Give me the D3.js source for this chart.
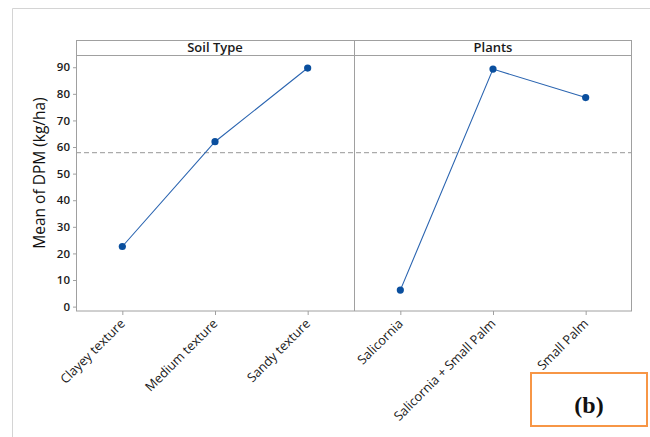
<!DOCTYPE html>
<html><head><meta charset="utf-8">
<script src="https://cdn.jsdelivr.net/npm/d3@7"></script>
<style>body{margin:0;background:#fff;} svg{display:block;}</style>
</head><body>
<svg id="c" width="650" height="437"></svg>
<script>
const panelTitles = ["Soil Type", "Plants"];
const soilCategories = ["Clayey texture", "Medium texture", "Sandy texture"];
const soilMeans = [22.6, 62.0, 89.7];
const plantCategories = ["Salicornia", "Salicornia + Small Palm", "Small Palm"];
const plantMeans = [6.2, 89.3, 78.6];
const overallMean = 57.9;
const yTicks = [0,10,20,30,40,50,60,70,80,90];
const yLabel = "Mean of DPM (kg/ha)";
const panelTag = "(b)";

const svg = d3.select("#c");
const L = 76, R = 632, T = 40, H = 55, B = 311;
const mid = 354;
const font = "'Open Sans', 'Noto Sans', sans-serif";
const frameCol = "#a0a0a0";

// outer light frame
svg.append("path").attr("d", `M12.5,437 V8.5 H650`).attr("fill","none").attr("stroke","#d4d4d4").attr("stroke-width",1);

const y = d3.scaleLinear().domain([-1.65, 94.6]).range([B, H]);

const panels = [
  {title: panelTitles[0], cats: soilCategories, vals: soilMeans, x0: L, x1: mid},
  {title: panelTitles[1], cats: plantCategories, vals: plantMeans, x0: mid, x1: R}
];

// reference dashed line
svg.append("line").attr("x1", L).attr("x2", R).attr("y1", y(overallMean)).attr("y2", y(overallMean))
  .attr("stroke", "#ababab").attr("stroke-width", 1.2).attr("stroke-dasharray", "5,3");

panels.forEach(p => {
  const x = d3.scalePoint().domain(p.cats).range([p.x0, p.x1]).padding(0.5);
  // header
  svg.append("text").attr("x", (p.x0+p.x1)/2).attr("y", T + 12).attr("text-anchor","middle")
    .attr("font-family", font).attr("font-size", 13).attr("font-weight", 600).attr("fill","#1a1a1a").text(p.title);
  // x axis
  const ax = svg.append("g").attr("transform", `translate(0,${B})`)
    .call(d3.axisBottom(x).tickSize(4).tickSizeOuter(0).tickFormat(""));
  ax.select(".domain").remove();
  ax.selectAll("line").attr("stroke", frameCol);
  p.cats.forEach(c => {
    svg.append("text").attr("transform", `translate(${x(c)+1},${B+11}) rotate(-45)`)
      .attr("text-anchor","end").attr("dominant-baseline","middle")
      .attr("font-family", font).attr("font-size", 12.8).attr("font-weight", 500).attr("fill","#1a1a1a").text(c);
  });
  // line and points
  const data = p.cats.map((c,i) => [x(c), y(p.vals[i])]);
  svg.append("path").attr("d", d3.line()(data)).attr("fill","none").attr("stroke","#2a64b0").attr("stroke-width",1.1);
  svg.selectAll(null).data(data).enter().append("circle")
    .attr("cx", d => d[0]).attr("cy", d => d[1]).attr("r", 3.6).attr("fill","#0a4f9e");
});

// frame
svg.append("rect").attr("x", L+0.5).attr("y", T+0.5).attr("width", R-L-1).attr("height", B-T-0.5)
  .attr("fill","none").attr("stroke", frameCol).attr("stroke-width",1);
svg.append("line").attr("x1", L).attr("x2", R).attr("y1", H+0.5).attr("y2", H+0.5).attr("stroke", frameCol);
svg.append("line").attr("x1", mid+0.5).attr("x2", mid+0.5).attr("y1", T).attr("y2", B).attr("stroke", frameCol);

// y axis
const ay = svg.append("g").attr("transform", `translate(${L},0)`)
  .call(d3.axisLeft(y).tickValues(yTicks).tickSize(3).tickPadding(3).tickSizeOuter(0));
ay.select(".domain").remove();
ay.selectAll("line").attr("stroke", frameCol);
ay.selectAll("text").attr("font-family", font).attr("font-size", 11.5).attr("font-weight", 600).attr("fill","#1a1a1a");

// y label
svg.append("text").attr("transform", `translate(45,${(H+B)/2 - 10}) rotate(-90)`).attr("text-anchor","middle")
  .attr("font-family", font).attr("font-size", 15.5).attr("font-weight", 500).attr("fill","#111").text(yLabel);

// tag box
svg.append("rect").attr("x", 531).attr("y", 373).attr("width", 116).attr("height", 53)
  .attr("fill","none").attr("stroke","#f79646").attr("stroke-width",2);
svg.append("text").attr("x", 589).attr("y", 413).attr("text-anchor","middle")
  .attr("font-family","'Liberation Serif', 'DejaVu Serif', serif").attr("font-size", 24).attr("font-weight","bold").attr("fill","#111").text(panelTag);
</script>
</body></html>
